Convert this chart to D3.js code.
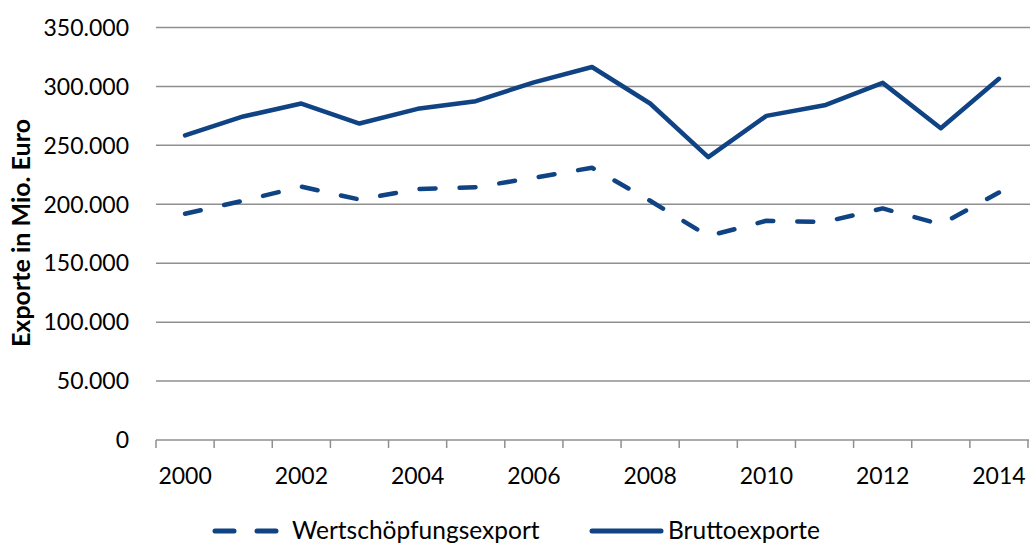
<!DOCTYPE html>
<meta charset="utf-8">
<head>
  <title>Exporte</title>
</head>
<style>
body { margin: 0; background: #fff; }
text { font-family: Lato, "Open Sans", sans-serif; fill: #000; }
</style>
<body>
<svg id="chart" width="1030" height="544"></svg>
<script src="https://cdnjs.cloudflare.com/ajax/libs/d3/7.8.5/d3.min.js"></script>
<script>
// data (Mio. Euro)
var years = [2000, 2001, 2002, 2003, 2004, 2005, 2006, 2007, 2008, 2009, 2010, 2011, 2012, 2013, 2014];
var brutto = [258500, 274500, 285500, 268500, 281000, 287500, 303500, 316500, 285500, 240000, 275000, 284000, 303000, 264500, 306500];
var wertschoepfung = [192000, 203000, 215000, 204000, 213000, 214500, 222500, 231000, 203000, 173000, 186000, 185000, 196500, 183000, 210000];
var yTicks = [0, 50000, 100000, 150000, 200000, 250000, 300000, 350000];
var yearLabels = [2000, 2002, 2004, 2006, 2008, 2010, 2012, 2014];

var blue = "#104383";
var grey = "#8f8f8f";

var svg = d3.select("#chart");

var x = d3.scaleBand().domain(years).range([156, 1028]).padding(0);
var y = d3.scaleLinear().domain([0, 350000]).range([440, 27.5]);

var fmt = function(d){
  return d3.format(",")(d).replace(/,/g, ".");
};

// gridlines
svg.selectAll(".grid")
  .data(yTicks.filter(function(d){ return d > 0; }))
  .enter().append("line")
  .attr("class", "grid")
  .attr("x1", 156).attr("x2", 1030)
  .attr("y1", function(d){ return y(d); })
  .attr("y2", function(d){ return y(d); })
  .style("stroke", grey).style("stroke-width", 1.5);

// y labels
svg.selectAll(".ylab")
  .data(yTicks)
  .enter().append("text")
  .attr("class", "ylab")
  .attr("x", 129)
  .attr("y", function(d){ return y(d); })
  .attr("dy", "0.36em")
  .attr("text-anchor", "end")
  .style("font-size", "23px")
  .text(fmt);

// x axis line + ticks at band edges
svg.append("line")
  .attr("x1", 156).attr("x2", 1029)
  .attr("y1", y(0)).attr("y2", y(0))
  .style("stroke", grey).style("stroke-width", 1.5);

var edges = years.map(function(d){ return x(d); }).concat([x(years[years.length-1]) + x.bandwidth()]);
svg.selectAll(".xtick")
  .data(edges)
  .enter().append("line")
  .attr("class", "xtick")
  .attr("x1", function(d){ return d; }).attr("x2", function(d){ return d; })
  .attr("y1", y(0)).attr("y2", y(0) + 8)
  .style("stroke", grey).style("stroke-width", 1.5);

svg.selectAll(".xlab")
  .data(yearLabels)
  .enter().append("text")
  .attr("class", "xlab")
  .attr("x", function(d){ return x(d) + x.bandwidth()/2; })
  .attr("y", 484)
  .attr("text-anchor", "middle")
  .style("font-size", "23px")
  .text(function(d){ return d; });

// y title
svg.append("text")
  .attr("transform", "translate(30,233) rotate(-90)")
  .attr("text-anchor", "middle")
  .style("font-size", "25px")
  .style("font-weight", "bold")
  .text("Exporte in Mio. Euro");

// lines
var line = d3.line()
  .x(function(d, i){ return x(years[i]) + x.bandwidth()/2; })
  .y(function(d){ return y(d); });

svg.append("path")
  .datum(wertschoepfung)
  .attr("d", line)
  .style("fill", "none")
  .style("stroke", blue)
  .style("stroke-width", 4.5)
  .style("stroke-linecap", "round")
  .style("stroke-linejoin", "round")
  .style("stroke-dasharray", "16,24");

svg.append("path")
  .datum(brutto)
  .attr("d", line)
  .style("fill", "none")
  .style("stroke", blue)
  .style("stroke-width", 4.5)
  .style("stroke-linecap", "round")
  .style("stroke-linejoin", "round");

// legend
var legend = svg.append("g");
legend.append("line")
  .attr("x1", 215).attr("x2", 277).attr("y1", 531).attr("y2", 531)
  .style("stroke", blue).style("stroke-width", 5)
  .style("stroke-linecap", "round")
  .style("stroke-dasharray", "19,23");
legend.append("text")
  .attr("x", 292).attr("y", 538.5)
  .style("font-size", "24.5px")
  .text("Wertschöpfungsexport");
legend.append("line")
  .attr("x1", 592).attr("x2", 661).attr("y1", 531).attr("y2", 531)
  .style("stroke", blue).style("stroke-width", 5)
  .style("stroke-linecap", "round");
legend.append("text")
  .attr("x", 668).attr("y", 538.5)
  .style("font-size", "24.5px")
  .text("Bruttoexporte");
</script>
</body>
